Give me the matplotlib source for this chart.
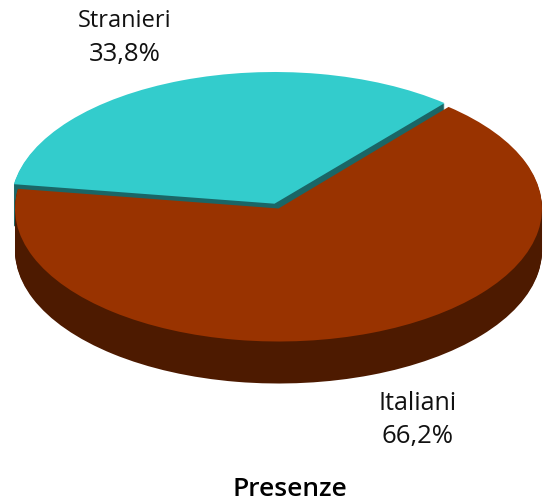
import matplotlib
matplotlib.use("Agg")
import matplotlib.pyplot as plt

categories = ["Stranieri", "Italiani"]
shares = [33.8, 66.2]
share_labels = ["33,8%", "66,2%"]
title = "Presenze"

W, H = 546, 503
DEPTH = 42
START = 49.8

CYAN, CYAN_DARK = "#33CCCC", "#1A6666"
RED, RED_DARK = "#993300", "#4D1A00"

plt.rcParams["font.family"] = ["Open Sans", "DejaVu Sans"]

fig = plt.figure(figsize=(W / 100, H / 100), dpi=100)


def slice_axes(cx, cy, rx, ry, colors, dark_colors):
    # one full-figure axes per slice, unit circle stretched to the ellipse in pixels
    ax = fig.add_axes([0, 0, 1, 1])
    for d in range(DEPTH, 0, -1):
        ax.pie(shares, colors=dark_colors, startangle=START, center=(0, -d / ry), frame=True)
    ax.pie(shares, colors=colors, startangle=START, frame=True)
    ax.set_aspect("auto")
    ax.set_xlim(-cx / rx, (W - cx) / rx)
    ax.set_ylim((cy - H) / ry, cy / ry)
    ax.axis("off")


# cyan slice first, red goes over its side walls
slice_axes(274.5, 203.7, 263.5, 131.7, [CYAN, "none"], [CYAN_DARK, "none"])
slice_axes(278.5, 208.5, 263.5, 133, ["none", RED], ["none", RED_DARK])

fig.text(125 / W, 1 - 21 / H, categories[0], ha="center", va="center", fontsize=17, color="#111111")
fig.text(125 / W, 1 - 55 / H, share_labels[0], ha="center", va="center", fontsize=18.5, color="#111111")
fig.text(418 / W, 1 - 403 / H, categories[1], ha="center", va="center", fontsize=18, color="#111111")
fig.text(418 / W, 1 - 436 / H, share_labels[1], ha="center", va="center", fontsize=18.5, color="#111111")
fig.text(290 / W, 1 - 490 / H, title, ha="center", va="center", fontsize=19, weight="semibold", color="black")

fig.savefig("out.png", dpi=100)
